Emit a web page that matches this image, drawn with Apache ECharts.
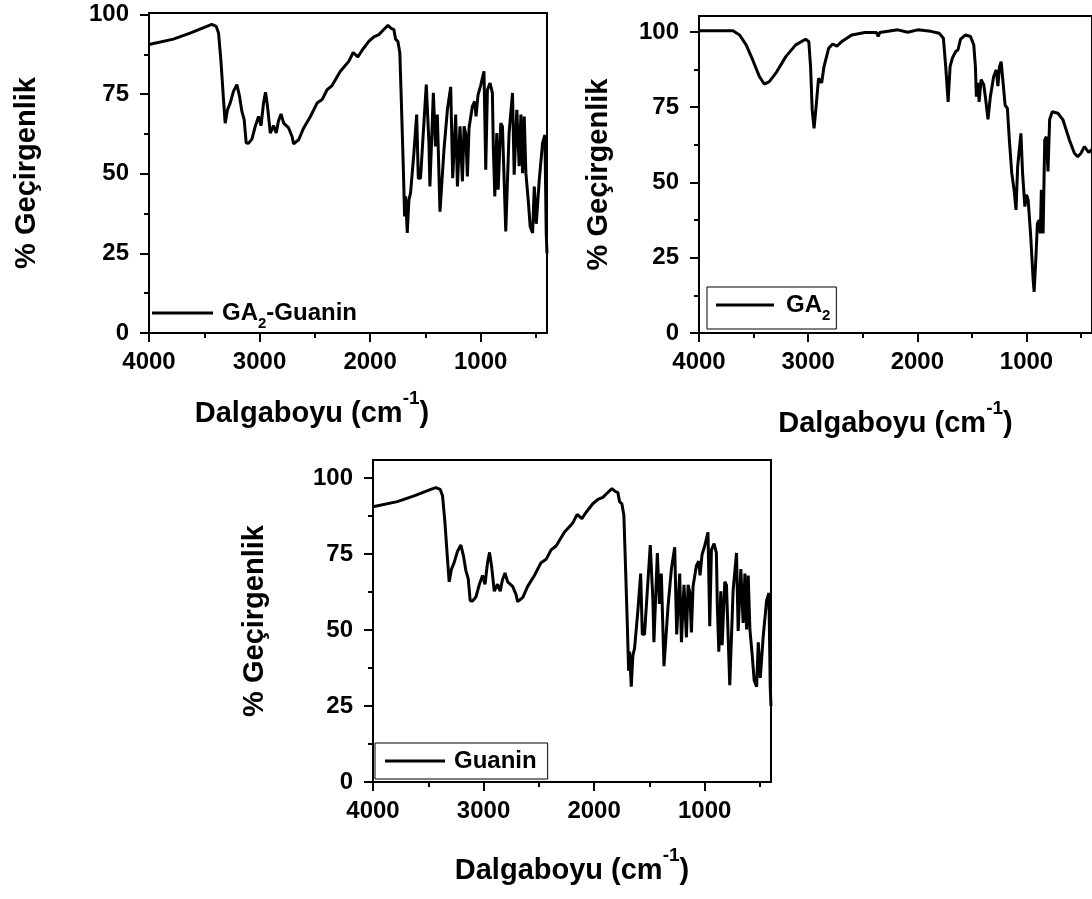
<!DOCTYPE html>
<html>
<head>
<meta charset="utf-8">
<script src="https://cdn.jsdelivr.net/npm/echarts@6/dist/echarts.min.js"></script>
<style>
html,body{margin:0;padding:0;background:#fff;}
#chart{width:1092px;height:899px;}
</style>
</head>
<body>
<div id="chart"></div>
<script>
// ---- data (wavenumber cm^-1, % transmittance) ----
const guaninSpectrum = [
[4000,90.6],[3780,92.3],[3628,94.2],[3477,96.3],[3432,96.9],[3392,96.3],[3371,94.2],[3350,85.8],[3326,73.3],[3311,65.9],
[3290,70.1],[3266,72.2],[3236,75.9],[3205,78.0],[3181,74.3],[3160,69.6],[3139,67.0],[3121,59.7],[3100,59.6],[3069,60.9],
[3039,64.9],[3009,68.0],[2987,65.1],[2964,72.2],[2946,75.6],[2928,71.2],[2903,62.8],[2873,65.1],[2849,62.8],[2830,66.4],
[2806,68.8],[2782,65.9],[2737,64.4],[2706,61.7],[2692,59.4],[2646,60.7],[2601,64.4],[2540,68.0],[2480,72.2],[2434,73.3],
[2389,76.4],[2344,77.7],[2269,82.2],[2193,85.3],[2153,88.1],[2111,86.7],[2072,88.8],[2012,91.6],[1966,93.0],[1921,93.7],
[1876,95.3],[1839,96.6],[1809,95.7],[1785,95.3],[1770,92.3],[1749,91.6],[1731,87.9],[1718,73.3],[1700,52.3],[1688,36.6],
[1679,42.9],[1664,31.4],[1649,41.8],[1634,44.0],[1604,56.5],[1579,68.6],[1564,48.6],[1544,48.6],[1519,62.8],[1492,78.0],
[1468,59.7],[1459,46.0],[1428,75.4],[1409,58.6],[1392,68.6],[1368,38.1],[1332,57.5],[1301,70.1],[1271,77.3],[1253,48.6],
[1226,68.6],[1210,46.0],[1187,64.9],[1165,47.6],[1150,64.9],[1135,62.5],[1120,49.2],[1105,64.4],[1075,71.2],[1054,72.7],
[1042,68.0],[1024,74.8],[1000,77.7],[970,82.2],[954,51.3],[939,76.4],[915,78.5],[894,75.4],[885,57.5],[872,42.9],
[854,62.8],[842,45.0],[818,65.9],[803,64.9],[773,31.9],[743,62.8],[712,75.4],[697,49.7],[673,70.1],[652,52.4],
[636,68.6],[621,50.2],[606,68.0],[591,50.2],[570,41.8],[552,33.4],[530,31.4],[515,46.0],[497,34.3],[470,48.1],
[440,59.7],[419,62.2],[407,31.4],[400,25.0]
];
const ga2GuaninSpectrum = guaninSpectrum; // the GA2-Guanin trace reads identical to the Guanin trace

const ga2Spectrum = [
[4000,100.4],[3689,100.4],[3628,99.0],[3568,95.7],[3508,90.7],[3447,85.2],[3402,82.7],[3356,83.5],[3296,86.3],[3205,91.8],
[3114,95.7],[3024,97.6],[2994,96.8],[2978,88.5],[2963,74.1],[2946,68.0],[2930,74.1],[2905,84.6],[2888,85.2],[2876,83.1],
[2855,88.5],[2812,94.6],[2776,96.0],[2737,95.3],[2692,96.8],[2601,99.0],[2480,99.8],[2374,99.8],[2359,98.5],[2344,99.8],
[2178,100.7],[2088,99.9],[1997,100.7],[1876,100.2],[1800,99.6],[1761,97.9],[1740,88.5],[1718,76.8],[1700,88.5],[1679,91.3],
[1649,93.5],[1628,94.0],[1604,97.6],[1558,99.0],[1513,98.5],[1483,95.7],[1468,88.5],[1459,78.5],[1446,83.1],[1434,76.8],
[1416,84.2],[1392,82.5],[1377,78.5],[1353,71.0],[1331,78.5],[1301,85.2],[1277,87.4],[1262,82.0],[1247,88.5],[1232,90.1],
[1217,84.2],[1196,75.7],[1175,74.6],[1157,64.1],[1135,53.1],[1114,47.6],[1096,40.9],[1081,55.3],[1066,55.3],[1051,66.3],
[1036,53.1],[1015,42.0],[1000,45.9],[985,44.2],[963,33.1],[939,17.6],[930,13.7],[915,24.2],[900,36.4],[885,37.5],
[873,33.1],[864,47.6],[848,33.1],[833,64.1],[818,65.2],[803,53.7],[788,70.9],[764,73.5],[712,73.0],[667,70.9],
[607,64.1],[561,59.7],[531,58.6],[501,59.7],[470,61.9],[455,62.4],[430,60.0],[400,61.0]
];

const seriesNames = ['GA2-Guanin', 'GA2', 'Guanin'];
const xMajorTicks = [1000, 2000, 3000, 4000];
const xMinorTicks = [500, 1500, 2500, 3500];
const yMajorTicks = [0, 25, 50, 75, 100];
const yMinorTicks = [12.5, 37.5, 62.5, 87.5];
const yAxisTitle = '% Geçirgenlik';
const xAxisTitle = '{n|Dalgaboyu (cm}{s|-1}{n|)}';

// ---- layout ----
const FONT = '"Liberation Sans", Arial, Helvetica, sans-serif';
const panels = [
  {rect:{left:149, top:13, width:398, height:320}, yMax:100.5, yGap:108, xGap:56, xShift:72, data:ga2GuaninSpectrum},
  {rect:{left:699, top:16, width:398, height:317}, yMax:105.3, yGap:86, xGap:66, xShift:0, data:ga2Spectrum},
  {rect:{left:373, top:460, width:398, height:322}, yMax:106, yGap:104, xGap:64, xShift:0, data:guaninSpectrum}
];

const grids = [], xAxes = [], yAxes = [], series = [];
const blackLine = {color:'#000', width:2};
const labelStyle = {color:'#000', fontSize:24, fontWeight:'bold', fontFamily:FONT, formatter: v => String(v)};

panels.forEach((p, i) => {
  grids.push(Object.assign({show:true, borderColor:'#000', borderWidth:2, backgroundColor:'transparent', containLabel:false}, p.rect));
});
panels.forEach((p, i) => {
  grids.push(Object.assign({show:false, containLabel:false}, p.rect));
});

panels.forEach((p, i) => {
  xAxes.push({
    type:'value', gridIndex:i, min:400, max:4000, inverse:true, position:'bottom',
    axisLine:{show:true, onZero:false, lineStyle:blackLine},
    axisTick:{show:true, customValues:xMajorTicks, length:9, lineStyle:blackLine},
    axisLabel:Object.assign({customValues:xMajorTicks, margin:17}, labelStyle),
    splitLine:{show:false},
    name:xAxisTitle, nameLocation:'middle', nameGap:p.xGap,
    nameTextStyle:{
      padding:[0, p.xShift, 0, 0],
      rich:{
        n:{fontSize:29, fontWeight:'bold', color:'#000', fontFamily:FONT, lineHeight:50},
        s:{fontSize:19, fontWeight:'bold', color:'#000', fontFamily:FONT, lineHeight:18, verticalAlign:'top'}
      }
    }
  });
  yAxes.push({
    type:'value', gridIndex:i, min:0, max:p.yMax, position:'left',
    axisLine:{show:true, onZero:false, lineStyle:blackLine},
    axisTick:{show:true, customValues:yMajorTicks, length:9, lineStyle:blackLine},
    axisLabel:Object.assign({customValues:yMajorTicks, margin:20}, labelStyle),
    splitLine:{show:false},
    name:yAxisTitle, nameLocation:'middle', nameRotate:90, nameGap:p.yGap,
    nameTextStyle:{fontSize:29, fontWeight:'bold', color:'#000', fontFamily:FONT}
  });
  series.push({
    type:'line', name:seriesNames[i], xAxisIndex:i, yAxisIndex:i,
    data:p.data, symbol:'none', showSymbol:false, smooth:false,
    lineStyle:{color:'#000', width:3}, itemStyle:{color:'#000'},
    animation:false, silent:true
  });
});
// minor tick overlays
panels.forEach((p, i) => {
  xAxes.push({
    type:'value', gridIndex:3+i, min:400, max:4000, inverse:true, position:'bottom',
    axisLine:{show:false}, axisLabel:{show:false}, splitLine:{show:false},
    axisTick:{show:true, customValues:xMinorTicks, length:5, lineStyle:blackLine}
  });
  yAxes.push({
    type:'value', gridIndex:3+i, min:0, max:p.yMax, position:'left',
    axisLine:{show:false}, axisLabel:{show:false}, splitLine:{show:false},
    axisTick:{show:true, customValues:yMinorTicks, length:5, lineStyle:blackLine}
  });
});

const legendRich = {
  g:{width:4, fontSize:24, lineHeight:36},
  h:{width:7, fontSize:24, lineHeight:36},
  b:{fontSize:24, fontWeight:'bold', color:'#000', fontFamily:FONT, lineHeight:36},
  s:{fontSize:15, fontWeight:'bold', color:'#000', fontFamily:FONT, lineHeight:15, verticalAlign:'bottom'}
};
const legendFmt = name => {
  if (name === 'GA2-Guanin') return '{g|}{b|GA}{s|2}{b|-Guanin}';
  if (name === 'GA2') return '{h|}{b|GA}{s|2}';
  return '{g|}{b|' + name + '}';
};
const legends = [
  {data:['GA2-Guanin'], left:152, top:301, padding:0, itemWidth:61, borderWidth:0},
  {data:['GA2'], left:707, top:287, padding:[6,6,6,9], itemWidth:58, borderColor:'#000', borderWidth:1},
  {data:['Guanin'], left:375, top:743, padding:[6,11,6,10], itemWidth:60, borderColor:'#000', borderWidth:1}
].map(l => Object.assign({
  show:true, orient:'horizontal', formatter:legendFmt, selectedMode:false,
  icon:'rect', itemHeight:3, itemStyle:{color:'#000', borderWidth:0},
  textStyle:{rich:legendRich}, backgroundColor:'#fff'
}, l));

const chart = echarts.init(document.getElementById('chart'), null, {renderer:'canvas'});
chart.setOption({
  backgroundColor:'#fff',
  animation:false,
  grid:grids, xAxis:xAxes, yAxis:yAxes, legend:legends, series:series
});
</script>
</body>
</html>
